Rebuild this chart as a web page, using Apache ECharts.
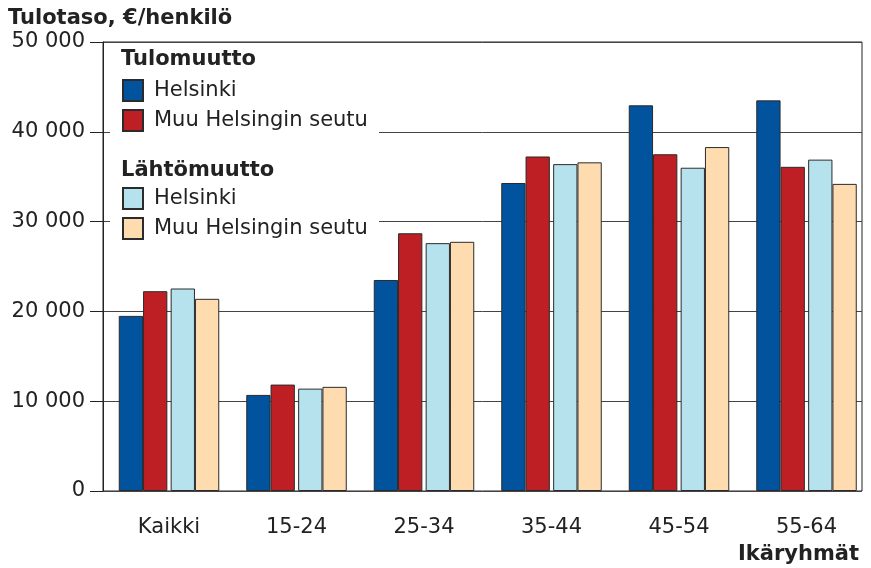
<!DOCTYPE html>
<html>
<head>
<meta charset="utf-8">
<script src="https://cdn.jsdelivr.net/npm/echarts@6/dist/echarts.min.js"></script>
<style>
  html, body { margin: 0; padding: 0; background: #fff; }
  #main { width: 871px; height: 568px; }
</style>
</head>
<body>
<div id="main"></div>
<script>
// ikäryhmät
const categories = ['Kaikki', '15-24', '25-34', '35-44', '45-54', '55-64'];
// tulomuutto
const tuloHelsinki = [19500, 10700, 23500, 34300, 42950, 43500];
const tuloMuu = [22250, 11850, 28700, 37250, 37500, 36100];
// lähtömuutto
const lahtoHelsinki = [22550, 11400, 27600, 36400, 36000, 36900];
const lahtoMuu = [21400, 11600, 27750, 36600, 38300, 34200];
const yTicks = [0, 10000, 20000, 30000, 40000, 50000];

const font = 'DejaVu Sans';
const chart = echarts.init(document.getElementById('main'), null, { renderer: 'canvas' });

function bar(name, data, color) {
  return {
    name: name,
    type: 'bar',
    xAxisIndex: 1,
    yAxisIndex: 1,
    barWidth: 24.3,
    barGap: '0%',
    data: data,
    itemStyle: { color: color, borderColor: '#2b2b2b', borderWidth: 1 }
  };
}

const legendText = { fontFamily: font, fontSize: 21, color: '#222', lineHeight: 21, padding: [0, 0, 0, 6] };

const option = {
  animation: false,
  grid: [
    // kehys + y-akseli
    { left: 103, right: 9, top: 42, bottom: 77, show: true, borderColor: '#222', borderWidth: 1 },
    // pylväät
    { left: 105.25, width: 765, top: 42, bottom: 77 }
  ],
  xAxis: [
    { type: 'value', gridIndex: 0, show: false, min: 0, max: 1 },
    {
      type: 'category', gridIndex: 1, data: categories,
      axisLine: { show: false }, axisTick: { show: false },
      axisLabel: { margin: 26, fontFamily: font, fontSize: 21, color: '#222' }
    }
  ],
  yAxis: [
    {
      type: 'value', gridIndex: 0, min: yTicks[0], max: yTicks[yTicks.length - 1], interval: 10000,
      axisLine: { show: true, lineStyle: { color: '#222', width: 1 } },
      axisTick: { show: true, length: 13, lineStyle: { color: '#222' } },
      axisLabel: {
        margin: 18, fontFamily: font, fontSize: 21, color: '#222',
        formatter: v => String(v).replace(/\B(?=(\d{3})+(?!\d))/g, ' ')
      },
      splitLine: { show: true, lineStyle: { color: '#444', width: 1 } }
    },
    { type: 'value', gridIndex: 1, min: 0, max: 50000, show: false }
  ],
  legend: [
    {
      data: ['Helsinki (tulo)', 'Muu Helsingin seutu (tulo)'],
      orient: 'vertical', left: 122, top: 79, padding: 0,
      itemWidth: 20, itemHeight: 21, itemGap: 7,
      icon: 'rect', selectedMode: false,
      formatter: n => n.replace(/ \(.*\)/, ''),
      textStyle: legendText
    },
    {
      data: ['Helsinki (lähtö)', 'Muu Helsingin seutu (lähtö)'],
      orient: 'vertical', left: 122, top: 187, padding: 0,
      itemWidth: 20, itemHeight: 21, itemGap: 7,
      icon: 'rect', selectedMode: false,
      formatter: n => n.replace(/ \(.*\)/, ''),
      textStyle: legendText
    }
  ],
  graphic: [
    { type: 'rect', z: 1, shape: { x: 110, y: 44, width: 269, height: 192 }, style: { fill: '#fff' } },
    { type: 'text', z: 2, left: 8, top: 8, style: { text: 'Tulotaso, €/henkilö', font: 'bold 21px "DejaVu Sans"', fill: '#222' } },
    { type: 'text', z: 2, right: 12, top: 544, style: { text: 'Ikäryhmät', font: 'bold 21px "DejaVu Sans"', fill: '#222' } },
    { type: 'text', z: 2, left: 121, top: 49, style: { text: 'Tulomuutto', font: 'bold 21px "DejaVu Sans"', fill: '#222' } },
    { type: 'text', z: 2, left: 121, top: 160, style: { text: 'Lähtömuutto', font: 'bold 21px "DejaVu Sans"', fill: '#222' } }
  ],
  series: [
    bar('Helsinki (tulo)', tuloHelsinki, '#00539c'),
    bar('Muu Helsingin seutu (tulo)', tuloMuu, '#be1f25'),
    // väli parien välissä
    { name: 'spacer', type: 'bar', xAxisIndex: 1, yAxisIndex: 1, barWidth: 3.3, barGap: '0%', data: categories.map(() => null), silent: true },
    bar('Helsinki (lähtö)', lahtoHelsinki, '#b6e2ee'),
    bar('Muu Helsingin seutu (lähtö)', lahtoMuu, '#fedcb0')
  ]
};
chart.setOption(option);
</script>
</body>
</html>
